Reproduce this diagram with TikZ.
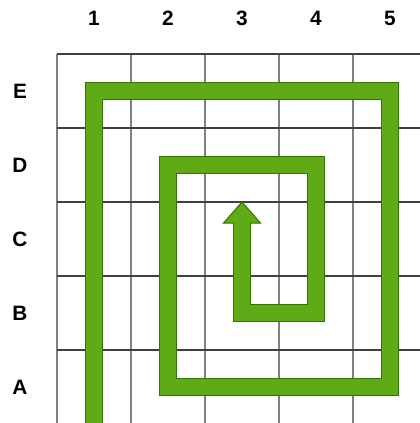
\documentclass[tikz,border=0pt]{standalone}
\usepackage{fontspec}
\setmainfont{Liberation Sans}
\usetikzlibrary{calc}

\definecolor{spiralfill}{HTML}{60A917}
\definecolor{spiraledge}{HTML}{2D7600}

\tikzset{
  vline/.style={draw=black!50, line width=0.45pt},
  hline/.style={draw=black!75, line width=0.45pt},
  lbl/.style={font=\bfseries\fontsize{8}{9.6}\selectfont, inner sep=0pt},
  band/.style={line join=miter, line cap=butt},
}

\begin{document}
\begin{tikzpicture}

    \useasboundingbox (-0.770,-4.986) rectangle (4.905,0.730);

    % Raster
    \begin{scope}
        \clip (-0.770,-4.986) rectangle (4.905,0.730);
        \foreach \x in {0,...,4} \draw[vline] (\x,0) -- (\x,-5.2);
        \foreach \y in {0,...,4} \draw[hline] (0,-\y) -- (5.2,-\y);
    \end{scope}

    % Zellmitten
    \foreach \c in {1,...,5}
        \foreach \r [count=\j] in {E,D,C,B,A}
            \coordinate (\r\c) at (\c-0.5,-\j+0.5);

    % Beschriftung
    \foreach \c in {1,...,5} \node[lbl] (col\c) at (\c-0.5,0.486) {\c};
    \foreach \r [count=\j] in {E,D,C,B,A} \node[lbl] (row\r) at (-0.5,-\j+0.5) {\r};

    % Spirale
    \coordinate (start) at ($(A1)+(0,-0.6)$);
    \coordinate (base) at ($(C3)+(0,0.216)$);
    \coordinate (tip) at ($(C3)+(0,0.5)$);

    \filldraw[fill=spiralfill, draw=spiraledge, line width=0.4pt, line join=miter]
        ($(base)+(-0.25,0)$) -- (tip) -- ($(base)+(0.25,0)$) -- cycle;
    \draw[band, spiraledge, line width=0.253cm]
        (start) -- (E1) -- (E5) -- (A5) -- (A2) -- (D2) -- (D4) -- (B4) -- (B3) -- (base);
    \draw[band, spiralfill, line width=0.226cm]
        (start) -- (E1) -- (E5) -- (A5) -- (A2) -- (D2) -- (D4) -- (B4) -- (B3) -- ($(base)+(0,0.02)$);

\end{tikzpicture}
\end{document}
